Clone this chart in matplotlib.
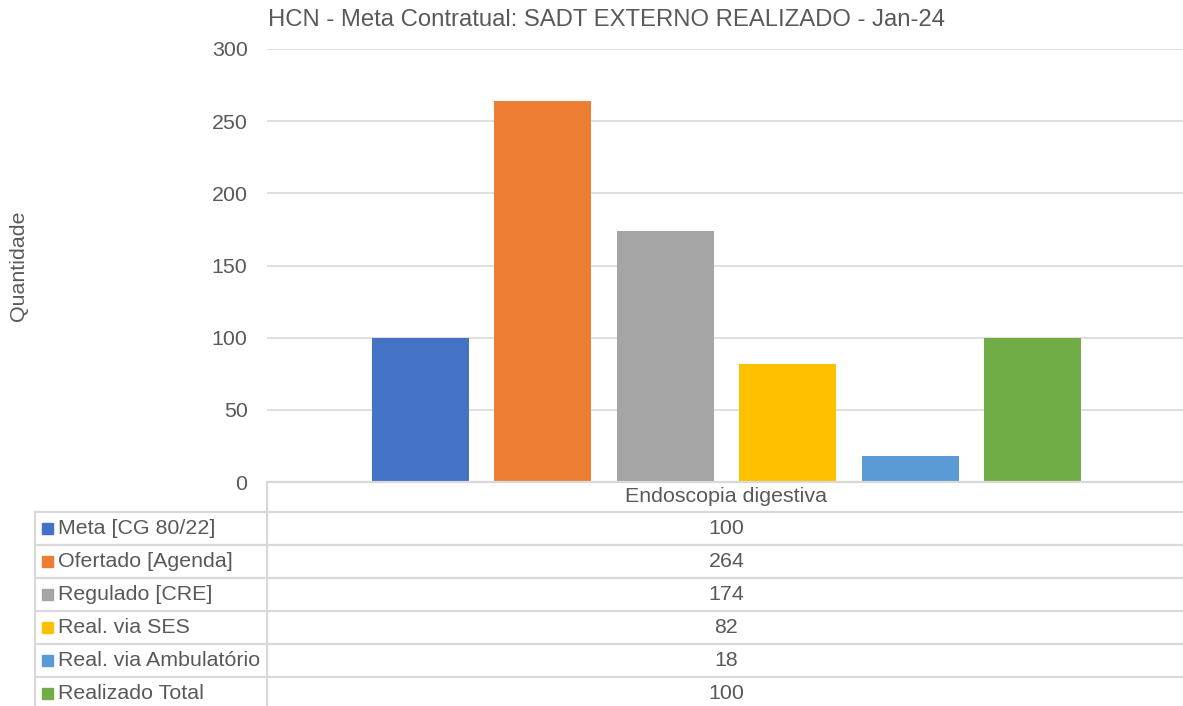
import numpy as np
import matplotlib.pyplot as plt
from matplotlib.lines import Line2D

plt.rcParams['font.family'] = ['Liberation Sans', 'DejaVu Sans']

category = 'Endoscopia digestiva'
series = ['Meta [CG 80/22]', 'Ofertado [Agenda]', 'Regulado [CRE]',
          'Real. via SES', 'Real. via Ambulatório', 'Realizado Total']
values = [100, 264, 174, 82, 18, 100]
colors = ['#4472C4', '#ED7D31', '#A5A5A5', '#FFC000', '#5B9BD5', '#70AD47']

W, H = 1183, 706
fig = plt.figure(figsize=(W / 100, H / 100), dpi=100)
txt = '#595959'
grid = '#D9D9D9'
fs = 15.4

# bar chart area (pixel coords converted to fractions)
left, right, top, bottom = 267, 1186, 49, 482
ax = fig.add_axes([left / W, (H - bottom) / H, (right - left) / W, (bottom - top) / H])
n = len(values)
step = 0.8 / n
xs = -0.4 + step / 2 + np.arange(n) * step
ax.bar(xs, values, width=step * 0.79, color=colors, zorder=3)
ax.set_xlim(-0.5, 0.5)
ax.set_ylim(0, 300)
ax.set_yticks(np.arange(0, 301, 50))
ax.yaxis.grid(True, color=grid, linewidth=1.2, zorder=0)
ax.set_xticks([])
for s in ax.spines.values():
    s.set_visible(False)
ax.tick_params(axis='y', length=0, pad=14, labelsize=fs, labelcolor=txt)

# overlay in pixel coordinates for title, axis title and data table
ov = fig.add_axes([0, 0, 1, 1], zorder=5)
ov.set_xlim(0, W)
ov.set_ylim(H, 0)
ov.axis('off')
ov.patch.set_alpha(0)

ov.text(607, 20, 'HCN - Meta Contratual: SADT EXTERNO REALIZADO - Jan-24',
        ha='center', va='center', fontsize=17.2, color=txt)
ov.text(19, 266, 'Quantidade', rotation=90, ha='center', va='center',
        fontsize=fs, color=txt)

lw = 1.6
ov.add_line(Line2D([left, W], [bottom, bottom], color=grid, lw=lw))
ov.add_line(Line2D([left, left], [bottom, H], color=grid, lw=lw))
ov.add_line(Line2D([35, 35], [512, H], color=grid, lw=lw))
row_h = 33
center_x = (left + right) / 2
ov.text(center_x, 497, category, ha='center', va='center', fontsize=fs, color=txt)
for i, (name, val, c) in enumerate(zip(series, values, colors)):
    y0 = 512 + i * row_h
    ov.add_line(Line2D([35, W], [y0, y0], color=grid, lw=lw))
    yc = y0 + row_h / 2
    ov.add_patch(plt.Rectangle((42, yc - 5.5), 11, 11, color=c))
    ov.text(58, yc, name, ha='left', va='center', fontsize=fs, color=txt)
    ov.text(center_x, yc, str(val), ha='center', va='center', fontsize=fs, color=txt)
ov.add_line(Line2D([35, W], [512 + n * row_h, 512 + n * row_h], color=grid, lw=lw))

fig.savefig('out.png', dpi=100)
